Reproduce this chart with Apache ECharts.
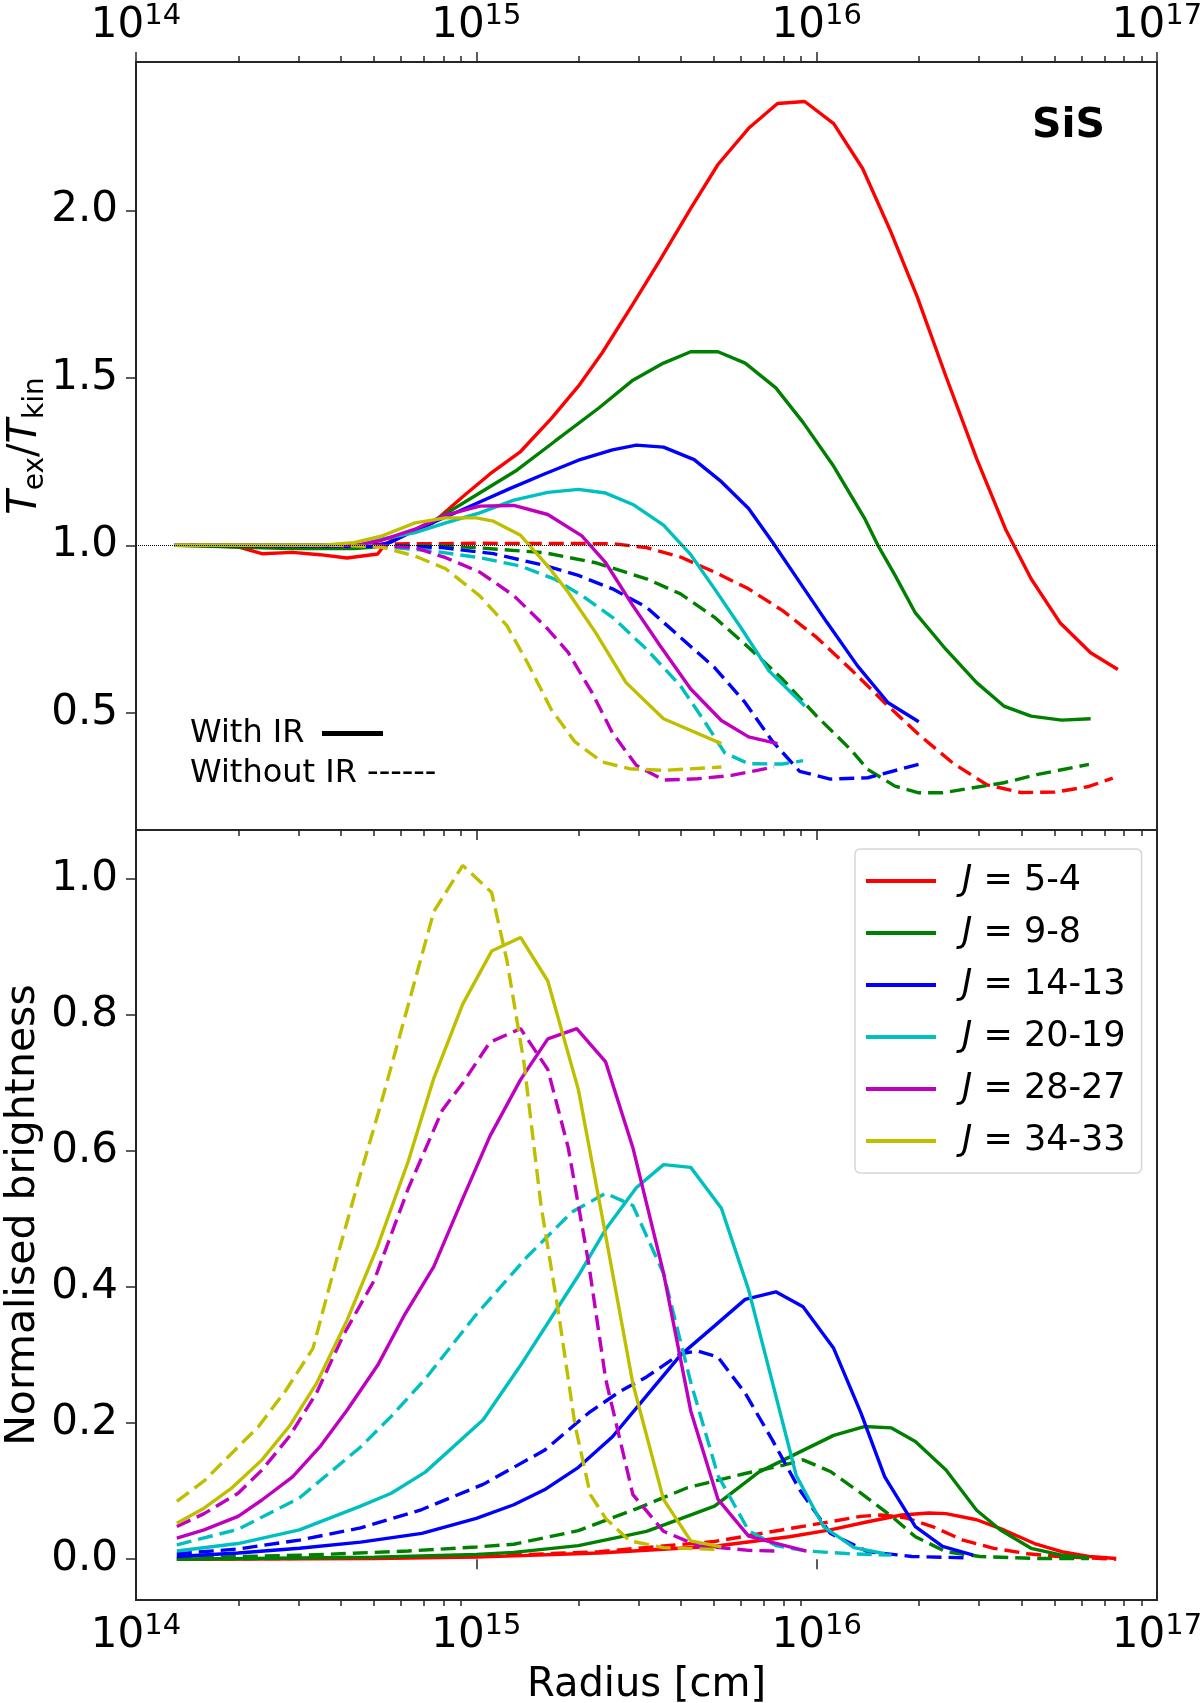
<!DOCTYPE html>
<html>
<head>
<meta charset="utf-8">
<script src="https://cdn.jsdelivr.net/npm/echarts@6/dist/echarts.min.js"></script>
<style>
html, body { margin: 0; padding: 0; background: #fff; }
#chart { width: 1200px; height: 1703px; }
</style>
</head>
<body>
<div id="chart"></div>
<script>
// points are [log10(radius / cm), value]

// upper panel: Tex/Tkin, with IR (solid) and without IR (dashed)
const texIR54 = [[14.114,1.0],[14.2,1.0],[14.3,0.995],[14.37,0.975],[14.46,0.979],[14.54,0.972],[14.62,0.962],[14.71,0.974],[14.73,1.0],[14.75,1.015],[14.8,1.036],[14.87,1.065],[14.96,1.145],[15.04,1.213],[15.13,1.28],[15.22,1.378],[15.3,1.475],[15.37,1.575],[15.46,1.72],[15.54,1.852],[15.63,2.006],[15.71,2.137],[15.8,2.245],[15.885,2.319],[15.965,2.325],[16.05,2.259],[16.135,2.125],[16.215,1.943],[16.295,1.743],[16.38,1.504],[16.47,1.259],[16.555,1.048],[16.63,0.9],[16.715,0.769],[16.805,0.679],[16.885,0.629]];
const texNoIR54 = [[14.114,1.0],[14.5,1.0],[14.75,1.004],[15.0,1.006],[15.4,1.005],[15.5,0.993],[15.6,0.965],[15.7,0.92],[15.8,0.87],[15.9,0.805],[16.0,0.725],[16.1,0.63],[16.2,0.53],[16.3,0.435],[16.4,0.35],[16.5,0.285],[16.6,0.262],[16.7,0.263],[16.8,0.28],[16.87,0.305]];
const texIR98 = [[14.114,1.0],[14.3,0.995],[14.45,0.99],[14.64,0.99],[14.7,0.995],[14.73,1.0],[14.8,1.036],[14.89,1.082],[15.0,1.15],[15.12,1.225],[15.23,1.31],[15.36,1.41],[15.46,1.493],[15.55,1.544],[15.63,1.578],[15.71,1.578],[15.79,1.544],[15.88,1.47],[15.96,1.367],[16.05,1.236],[16.14,1.082],[16.18,1.0],[16.23,0.911],[16.29,0.798],[16.38,0.689],[16.47,0.59],[16.55,0.52],[16.63,0.49],[16.72,0.478],[16.805,0.482]];
const texNoIR98 = [[14.114,1.0],[14.9,0.998],[15.0,0.993],[15.2,0.978],[15.35,0.948],[15.5,0.9],[15.6,0.855],[15.7,0.785],[15.8,0.695],[15.9,0.6],[16.0,0.49],[16.1,0.39],[16.15,0.331],[16.23,0.281],[16.3,0.261],[16.37,0.261],[16.46,0.276],[16.55,0.291],[16.65,0.316],[16.8,0.346]];
const texIR1413 = [[14.114,1.0],[14.5,0.997],[14.7,0.997],[14.75,1.01],[14.82,1.045],[14.9,1.08],[15.0,1.125],[15.1,1.17],[15.2,1.213],[15.3,1.254],[15.4,1.285],[15.47,1.299],[15.55,1.293],[15.64,1.256],[15.72,1.19],[15.8,1.11],[15.87,1.01],[15.95,0.89],[16.03,0.77],[16.12,0.64],[16.21,0.53],[16.3,0.473]];
const texNoIR1413 = [[14.114,1.0],[14.7,1.0],[14.9,0.993],[15.05,0.975],[15.2,0.94],[15.3,0.91],[15.4,0.87],[15.5,0.815],[15.6,0.725],[15.7,0.635],[15.79,0.53],[15.87,0.415],[15.95,0.325],[16.04,0.302],[16.15,0.306],[16.3,0.346]];
const texIR2019 = [[14.114,1.0],[14.65,1.0],[14.72,1.018],[14.82,1.038],[14.91,1.067],[15.01,1.097],[15.11,1.135],[15.21,1.158],[15.3,1.167],[15.38,1.156],[15.46,1.122],[15.55,1.06],[15.63,0.972],[15.7,0.87],[15.78,0.75],[15.86,0.625],[15.965,0.52]];
const texNoIR2019 = [[14.114,1.0],[14.6,1.0],[14.72,0.997],[14.87,0.983],[15.01,0.963],[15.13,0.938],[15.23,0.899],[15.31,0.85],[15.4,0.785],[15.5,0.69],[15.6,0.58],[15.67,0.475],[15.73,0.38],[15.8,0.348],[15.9,0.347],[15.96,0.357]];
const texIR2827 = [[14.114,1.0],[14.65,1.0],[14.72,1.015],[14.82,1.048],[14.91,1.09],[15.01,1.117],[15.11,1.119],[15.21,1.092],[15.31,1.028],[15.38,0.948],[15.46,0.82],[15.54,0.7],[15.63,0.571],[15.72,0.477],[15.8,0.428],[15.885,0.408]];
const texNoIR2827 = [[14.114,1.0],[14.72,0.999],[14.82,0.993],[14.91,0.963],[15.01,0.92],[15.11,0.85],[15.21,0.75],[15.27,0.68],[15.34,0.56],[15.4,0.44],[15.47,0.343],[15.55,0.299],[15.65,0.303],[15.75,0.313],[15.875,0.338]];
const texIR3433 = [[14.114,1.0],[14.55,1.0],[14.64,1.008],[14.72,1.027],[14.82,1.067],[14.91,1.082],[15.0,1.082],[15.05,1.072],[15.13,1.03],[15.21,0.938],[15.27,0.86],[15.35,0.74],[15.44,0.59],[15.55,0.482],[15.72,0.408]];
const texNoIR3433 = [[14.114,1.0],[14.6,1.0],[14.72,0.995],[14.82,0.968],[14.91,0.93],[15.01,0.849],[15.09,0.76],[15.15,0.65],[15.22,0.51],[15.29,0.413],[15.37,0.353],[15.45,0.333],[15.55,0.328],[15.72,0.338]];

// lower panel: normalised brightness
const briIR54 = [[14.12,0.0],[14.7,0.001],[15.0,0.003],[15.36,0.009],[15.7,0.019],[15.92,0.033],[16.04,0.043],[16.15,0.055],[16.25,0.065],[16.33,0.068],[16.38,0.067],[16.47,0.058],[16.55,0.043],[16.64,0.023],[16.72,0.011],[16.8,0.004],[16.88,0.001]];
const briNoIR54 = [[14.12,0.0],[14.7,0.002],[15.0,0.004],[15.36,0.011],[15.7,0.026],[15.92,0.045],[16.04,0.055],[16.13,0.063],[16.19,0.065],[16.26,0.061],[16.34,0.048],[16.43,0.028],[16.52,0.016],[16.62,0.008],[16.71,0.004],[16.88,0.0]];
const briIR98 = [[14.12,0.0],[14.7,0.003],[15.0,0.007],[15.11,0.01],[15.3,0.02],[15.5,0.041],[15.7,0.078],[15.83,0.128],[15.96,0.16],[16.05,0.182],[16.14,0.195],[16.22,0.193],[16.29,0.173],[16.38,0.131],[16.47,0.072],[16.54,0.043],[16.63,0.016],[16.72,0.006],[16.8,0.002]];
const briNoIR98 = [[14.12,0.002],[14.5,0.006],[14.8,0.012],[15.0,0.018],[15.11,0.022],[15.3,0.042],[15.47,0.074],[15.62,0.105],[15.79,0.126],[15.9,0.138],[15.96,0.146],[16.04,0.129],[16.13,0.097],[16.22,0.063],[16.29,0.033],[16.38,0.011],[16.48,0.004],[16.65,0.001],[16.8,0.001]];
const briIR1413 = [[14.12,0.004],[14.3,0.009],[14.48,0.016],[14.66,0.025],[14.84,0.038],[15.0,0.06],[15.11,0.08],[15.2,0.102],[15.3,0.135],[15.4,0.18],[15.5,0.24],[15.6,0.3],[15.7,0.343],[15.79,0.382],[15.88,0.393],[15.96,0.371],[16.05,0.31],[16.13,0.215],[16.2,0.121],[16.29,0.048],[16.37,0.019],[16.46,0.006]];
const briNoIR1413 = [[14.12,0.008],[14.3,0.015],[14.48,0.028],[14.66,0.046],[14.84,0.073],[15.02,0.11],[15.2,0.16],[15.33,0.215],[15.42,0.246],[15.5,0.268],[15.6,0.302],[15.65,0.306],[15.71,0.297],[15.79,0.244],[15.87,0.175],[15.95,0.102],[16.04,0.038],[16.15,0.011],[16.28,0.004],[16.44,0.002]];
const briIR2019 = [[14.12,0.012],[14.3,0.023],[14.48,0.043],[14.66,0.078],[14.75,0.097],[14.85,0.128],[15.02,0.205],[15.13,0.285],[15.22,0.355],[15.3,0.417],[15.38,0.485],[15.47,0.546],[15.55,0.58],[15.63,0.576],[15.72,0.516],[15.8,0.396],[15.87,0.26],[15.94,0.123],[16.02,0.048],[16.11,0.017],[16.2,0.008]];
const briNoIR2019 = [[14.12,0.021],[14.3,0.044],[14.48,0.09],[14.66,0.165],[14.75,0.21],[14.85,0.265],[15.0,0.36],[15.15,0.445],[15.28,0.51],[15.38,0.538],[15.46,0.52],[15.55,0.42],[15.63,0.26],[15.71,0.123],[15.8,0.042],[15.88,0.02],[15.97,0.012],[16.1,0.008],[16.22,0.006]];
const briIR2827 = [[14.12,0.031],[14.2,0.043],[14.3,0.063],[14.37,0.087],[14.46,0.121],[14.54,0.165],[14.62,0.219],[14.71,0.285],[14.79,0.36],[14.875,0.43],[14.96,0.53],[15.04,0.622],[15.13,0.705],[15.21,0.765],[15.295,0.78],[15.38,0.731],[15.46,0.605],[15.55,0.421],[15.63,0.218],[15.71,0.088],[15.8,0.034],[15.875,0.024],[15.97,0.012]];
const briNoIR2827 = [[14.12,0.048],[14.2,0.067],[14.3,0.097],[14.37,0.131],[14.45,0.18],[14.53,0.244],[14.61,0.33],[14.7,0.41],[14.8,0.545],[14.9,0.66],[14.96,0.7],[15.04,0.76],[15.13,0.78],[15.21,0.72],[15.27,0.605],[15.33,0.435],[15.38,0.265],[15.46,0.095],[15.55,0.041],[15.65,0.02],[15.8,0.013],[15.88,0.012]];
const briIR3433 = [[14.12,0.053],[14.2,0.075],[14.28,0.104],[14.37,0.146],[14.45,0.195],[14.53,0.258],[14.62,0.351],[14.71,0.46],[14.8,0.585],[14.875,0.707],[14.96,0.816],[15.045,0.894],[15.13,0.914],[15.21,0.85],[15.3,0.69],[15.37,0.503],[15.46,0.258],[15.55,0.088],[15.63,0.027],[15.72,0.018]];
const briNoIR3433 = [[14.12,0.085],[14.2,0.115],[14.28,0.155],[14.36,0.195],[14.44,0.248],[14.52,0.31],[14.6,0.46],[14.66,0.567],[14.72,0.67],[14.8,0.815],[14.875,0.952],[14.96,1.02],[15.045,0.98],[15.09,0.88],[15.14,0.73],[15.19,0.52],[15.24,0.367],[15.29,0.197],[15.335,0.095],[15.38,0.06],[15.45,0.027],[15.55,0.017],[15.72,0.014]];

const lines = ['5-4', '9-8', '14-13', '20-19', '28-27', '34-33'];
const colors = ['#ff0000', '#008000', '#0000ff', '#00bfbf', '#bf00bf', '#bfbf00'];
const texIR = [texIR54, texIR98, texIR1413, texIR2019, texIR2827, texIR3433];
const texNoIR = [texNoIR54, texNoIR98, texNoIR1413, texNoIR2019, texNoIR2827, texNoIR3433];
const briIR = [briIR54, briIR98, briIR1413, briIR2019, briIR2827, briIR3433];
const briNoIR = [briNoIR54, briNoIR98, briNoIR1413, briNoIR2019, briNoIR2827, briNoIR3433];

const decades = [1e14, 1e15, 1e16, 1e17];
const texTicks = [0.5, 1.0, 1.5, 2.0];
const briTicks = [0, 0.2, 0.4, 0.6, 0.8, 1.0];

let minorTicks = [];
for (let d = 14; d < 17; d++)
	for (let k = 2; k < 10; k++)
		minorTicks.push(k * Math.pow(10, d));

const FONT = 'DejaVu Sans';
const INK = '#262626';

let chart = echarts.init(document.getElementById('chart'), null, { renderer: 'canvas' });

function toXY(pts) {
	return pts.map(p => [Math.pow(10, p[0]), p[1]]);
}

function makeLine(name, pts, color, dashed, panel) {
	return {
		name: name,
		type: 'line',
		xAxisIndex: panel === 0 ? 0 : 4,
		yAxisIndex: panel,
		data: toXY(pts),
		color: color,
		showSymbol: false,
		symbol: 'none',
		silent: true,
		lineStyle: { color: color, width: 3.4, type: dashed ? [15, 7] : 'solid' },
		z: 3
	};
}

let series = [];
for (let i = 0; i < lines.length; i++) {
	series.push(makeLine('tex ' + lines[i], texIR[i], colors[i], false, 0));
	series.push(makeLine('tex noir ' + lines[i], texNoIR[i], colors[i], true, 0));
}
for (let i = 0; i < lines.length; i++) {
	series.push(makeLine('J = ' + lines[i], briIR[i], colors[i], false, 1));
	series.push(makeLine('bri noir ' + lines[i], briNoIR[i], colors[i], true, 1));
}
// dotted reference at Tex/Tkin = 1
series[0].markLine = {
	silent: true,
	symbol: ['none', 'none'],
	label: { show: false },
	lineStyle: { color: '#000', type: 'dotted', width: 1 },
	data: [{ yAxis: 1 }]
};

function logAxis(grid, pos, values, len, labels) {
	return {
		type: 'log',
		gridIndex: grid,
		position: pos,
		min: 1e14,
		max: 1e17,
		logBase: 10,
		axisLine: { show: false },
		splitLine: { show: false },
		axisTick: { show: true, customValues: values, length: len, lineStyle: { color: INK, width: 1.5 } },
		axisLabel: labels ? {
			show: true,
			customValues: values,
			margin: 12,
			formatter: v => '{b|10}{s|' + Math.round(Math.log10(v)) + '}',
			rich: {
				b: { fontSize: 42, fontFamily: FONT, color: '#000', lineHeight: 48 },
				s: { fontSize: 29, fontFamily: FONT, color: '#000', verticalAlign: 'top', lineHeight: 29 }
			}
		} : { show: false }
	};
}

let xAxes = [
	logAxis(0, 'top', decades, 10, true),
	logAxis(0, 'top', minorTicks, 6, false),
	logAxis(0, 'bottom', decades, 10, false),
	logAxis(0, 'bottom', minorTicks, 6, false),
	logAxis(1, 'bottom', decades, 10, true),
	logAxis(1, 'bottom', minorTicks, 6, false)
];
xAxes[4].name = 'Radius [cm]';
xAxes[4].nameLocation = 'middle';
xAxes[4].nameGap = 66;
xAxes[4].nameTextStyle = { fontSize: 40, fontFamily: FONT, color: '#000' };

function valAxis(grid, min, max, ticks) {
	return {
		type: 'value',
		gridIndex: grid,
		min: min,
		max: max,
		axisLine: { show: false },
		splitLine: { show: false },
		axisTick: { show: true, customValues: ticks, length: 10, lineStyle: { color: INK, width: 1.5 } },
		axisLabel: {
			show: true,
			customValues: ticks,
			margin: 18,
			formatter: v => v.toFixed(1),
			fontSize: 42,
			fontFamily: FONT,
			color: '#000'
		},
		nameLocation: 'middle',
		nameRotate: 90,
		nameMoveOverlap: false
	};
}

let yTex = valAxis(0, 0.15, 2.443, texTicks);
yTex.name = '{t|T}{s|ex}{n|/}{t|T}{s|kin}';
yTex.nameGap = 86;
yTex.nameTextStyle = {
	rich: {
		t: { fontSize: 40, fontFamily: FONT, fontStyle: 'italic', color: '#000', lineHeight: 48 },
		n: { fontSize: 40, fontFamily: FONT, color: '#000', lineHeight: 48 },
		s: { fontSize: 28, fontFamily: FONT, color: '#000', verticalAlign: 'bottom', lineHeight: 29 }
	}
};
let yBri = valAxis(1, -0.06, 1.072, briTicks);
yBri.name = 'Normalised brightness';
yBri.nameGap = 92;
yBri.nameTextStyle = { fontSize: 41, fontFamily: FONT, color: '#000' };

let option = {
	animation: false,
	backgroundColor: '#fff',
	grid: [
		{ left: 136, top: 62, width: 1021, height: 768, outerBoundsMode: 'none', containLabel: false, show: true, borderColor: INK, borderWidth: 2, backgroundColor: 'transparent' },
		{ left: 136, top: 830, width: 1021, height: 770, outerBoundsMode: 'none', containLabel: false, show: true, borderColor: INK, borderWidth: 2, backgroundColor: 'transparent' }
	],
	xAxis: xAxes,
	yAxis: [yTex, yBri],
	legend: {
		data: lines.map(l => 'J = ' + l),
		orient: 'vertical',
		left: 855,
		top: 849,
		padding: [12, 16, 12, 11],
		itemGap: 12,
		itemWidth: 70,
		itemHeight: 4,
		icon: 'rect',
		backgroundColor: 'rgba(255,255,255,0.85)',
		borderColor: '#d6d6d6',
		borderWidth: 1.5,
		borderRadius: 5,
		selectedMode: false,
		formatter: name => '{i|J}{t| = ' + name.split('= ')[1] + '}',
		textStyle: {
			fontSize: 35,
			fontFamily: FONT,
			color: '#000',
			lineHeight: 40,
			padding: [0, 0, 0, 21],
			rich: {
				i: { fontSize: 35, fontFamily: FONT, fontStyle: 'italic', color: '#000', lineHeight: 40 },
				t: { fontSize: 35, fontFamily: FONT, color: '#000', lineHeight: 40 }
			}
		}
	},
	graphic: [
		{ type: 'text', left: 1032, top: 106, style: { text: 'SiS', font: 'bold 41px "DejaVu Sans"', fill: '#000' } },
		{ type: 'text', left: 190, top: 718, style: { text: 'With IR', font: '32px "DejaVu Sans"', fill: '#000' } },
		{ type: 'rect', left: 322, top: 731, shape: { width: 61, height: 5 }, style: { fill: '#000' } },
		{ type: 'text', left: 190, top: 758, style: { text: 'Without IR ------', font: '32px "DejaVu Sans"', fill: '#000' } }
	],
	series: series
};

chart.setOption(option);
</script>
</body>
</html>
